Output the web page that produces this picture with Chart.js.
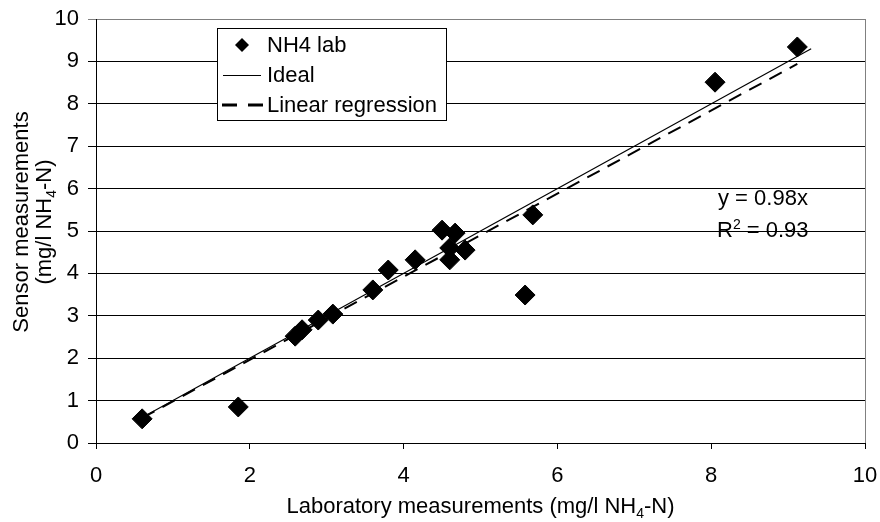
<!DOCTYPE html>
<html><head><meta charset="utf-8">
<script src="https://cdn.jsdelivr.net/npm/chart.js@4/dist/chart.umd.min.js"></script>
<style>html,body{margin:0;padding:0;background:#fff}#w{width:880px;height:522px}</style>
</head><body>
<div id="w"><canvas id="c" width="880" height="522"></canvas></div>
<script>
// ---- data ----
const labX    = [0.60,1.85,2.59,2.68,2.89,3.08,3.60,3.80,4.15,4.50,4.67,4.60,4.80,4.60,5.58,5.68,8.05,9.12];
const sensorY = [0.57,0.85,2.52,2.67,2.90,3.04,3.61,4.08,4.32,5.02,4.95,4.60,4.55,4.32,3.49,5.38,8.51,9.34];
const idealX  = [0.6, 9.3];
const idealY  = [0.6, 9.3];
const regX    = [0.6, 9.12];
const regY    = [0.59, 8.94];
const xTicks  = [0,2,4,6,8,10];
const yTicks  = [0,1,2,3,4,5,6,7,8,9,10];
const seriesNames = ['NH4 lab','Ideal','Linear regression'];
const eqLine  = 'y = 0.98x';
const r2Value = '0.93';
const xTitle  = [['Laboratory measurements (mg/l NH',0],['4',1],['-N)',0]];
const yTitle1 = [['Sensor measurements',0]];
const yTitle2 = [['(mg/l NH',0],['4',1],['-N)',0]];

const FONT = "'Liberation Sans', Arial, Helvetica, sans-serif";
const FS = 22;

function richWidth(ctx, parts, size){
  let w=0;
  for(const [t,m] of parts){ ctx.font=(m?Math.round(size*0.65):size)+'px '+FONT; w+=ctx.measureText(t).width; }
  return w;
}
function drawRich(ctx, parts, x, y, size, align){
  const w = richWidth(ctx, parts, size);
  let cx = align==='center' ? x-w/2 : x;
  ctx.textBaseline='alphabetic'; ctx.textAlign='left'; ctx.fillStyle='#000';
  for(const [t,m] of parts){
    const s = m?Math.round(size*0.65):size;
    ctx.font=s+'px '+FONT;
    const dy = m===1 ? size*0.22 : (m===2 ? -size*0.38 : 0);
    ctx.fillText(t, cx, y+dy);
    cx += ctx.measureText(t).width;
  }
}

const decor = {
  id:'decor',
  beforeDatasetsDraw(chart){
    const {ctx, chartArea:a} = chart;
    ctx.save();
    ctx.strokeStyle='#808080'; ctx.lineWidth=1;
    ctx.beginPath(); ctx.moveTo(Math.round(a.right)+0.5, a.top); ctx.lineTo(Math.round(a.right)+0.5, a.bottom); ctx.stroke();
    ctx.restore();
  },
  afterDraw(chart){
    const {ctx, chartArea:a} = chart;
    ctx.save();
    drawRich(ctx, xTitle, (a.left+a.right)/2, 513, FS, 'center');
    ctx.save();
    ctx.translate(0, 222); ctx.rotate(-Math.PI/2);
    drawRich(ctx, yTitle1, 0, 28, FS, 'center');
    drawRich(ctx, yTitle2, 0, 51, FS, 'center');
    ctx.restore();
    // legend
    const lx=217, ly=28, lw=229, lh=92;
    ctx.fillStyle='#fff'; ctx.fillRect(lx,ly,lw,lh);
    ctx.strokeStyle='#000'; ctx.lineWidth=1; ctx.strokeRect(lx+0.5,ly+0.5,lw,lh);
    const rows=[45,75,105];
    ctx.fillStyle='#000'; ctx.beginPath();
    ctx.moveTo(242-7,rows[0]); ctx.lineTo(242,rows[0]-7); ctx.lineTo(242+7,rows[0]); ctx.lineTo(242,rows[0]+7); ctx.closePath(); ctx.fill();
    ctx.strokeStyle='#000'; ctx.lineWidth=1.2; ctx.beginPath(); ctx.moveTo(223,rows[1]+0.5); ctx.lineTo(261,rows[1]+0.5); ctx.stroke();
    ctx.lineWidth=3; ctx.setLineDash([15,11]); ctx.beginPath(); ctx.moveTo(222,rows[2]); ctx.lineTo(264,rows[2]); ctx.stroke(); ctx.setLineDash([]);
    ctx.font=FS+'px '+FONT; ctx.fillStyle='#000'; ctx.textBaseline='middle'; ctx.textAlign='left';
    seriesNames.forEach((n,i)=>ctx.fillText(n, 267, rows[i]+1));
    drawRich(ctx, [[eqLine,0]], 718, 205, FS, 'left');
    drawRich(ctx, [['R',0],['2',2],[' = '+r2Value,0]], 717, 237, FS, 'left');
    ctx.restore();
  }
};

new Chart(document.getElementById('c'), {
  type:'scatter',
  data:{
    datasets:[
      { label:seriesNames[0], data:labX.map((x,i)=>({x, y:sensorY[i]})),
        pointStyle:'rectRot', pointRadius:10, pointHoverRadius:10, backgroundColor:'#000', borderColor:'#000', borderWidth:1, order:0 },
      { label:seriesNames[1], type:'line', data:idealX.map((x,i)=>({x, y:idealY[i]})),
        borderColor:'#000', borderWidth:1.2, pointRadius:0, fill:false, order:2 },
      { label:seriesNames[2], type:'line', data:regX.map((x,i)=>({x, y:regY[i]})),
        borderColor:'#000', borderWidth:2, borderDash:[14,9], pointRadius:0, fill:false, order:1 }
    ]
  },
  options:{
    responsive:false, animation:false, devicePixelRatio:1,
    layout:{ padding:{top:19,right:15,left:0,bottom:0} },
    plugins:{ legend:{display:false}, tooltip:{enabled:false} },
    scales:{
      x:{ type:'linear', min:0, max:10,
        afterBuildTicks(s){ s.ticks = xTicks.map(v=>({value:v})); },
        afterFit(s){ s.height = 79; s.paddingLeft = 0; s.paddingRight = 0; },
        grid:{ drawOnChartArea:false, drawTicks:true, tickLength:6, color:'#000', lineWidth:1 },
        border:{ display:true, color:'#000', width:1 },
        ticks:{ color:'#000', padding:14, maxRotation:0, font:{family:FONT, size:FS} } },
      y:{ type:'linear', min:0, max:10,
        afterBuildTicks(s){ s.ticks = yTicks.map(v=>({value:v})); },
        afterFit(s){ s.width = 96; s.paddingTop = 0; s.paddingBottom = 0; },
        grid:{ drawOnChartArea:true, drawTicks:true, tickLength:8, lineWidth:1,
          color:(c)=> c.tick && c.tick.value===10 ? '#808080' : '#000' },
        border:{ display:true, color:'#000', width:1 },
        ticks:{ color:'#000', padding:9, font:{family:FONT, size:FS} } }
    }
  },
  plugins:[decor]
});
</script>
</body></html>
